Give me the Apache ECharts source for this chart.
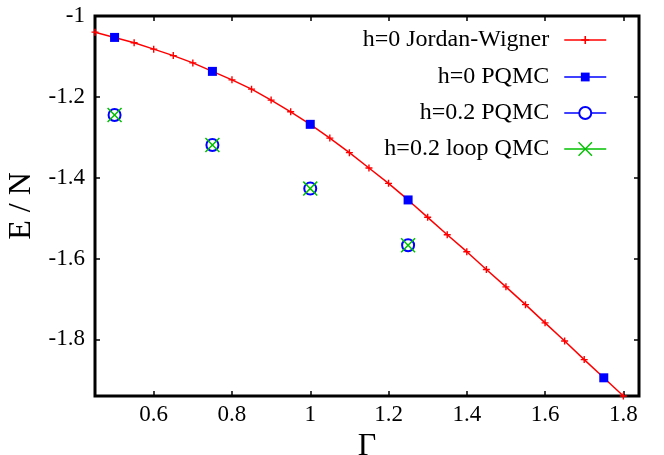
<!DOCTYPE html>
<html><head><meta charset="utf-8">
<script src="https://cdn.jsdelivr.net/npm/echarts@6/dist/echarts.min.js"></script>
<style>html,body{margin:0;padding:0;background:#fff}#c{width:664px;height:455px}</style>
</head><body><div id="c"></div>
<script>
const gammaJW = [0.45,0.5,0.55,0.6,0.65,0.7,0.75,0.8,0.85,0.9,0.95,1.0,1.05,1.1,1.15,1.2,1.25,1.3,1.35,1.4,1.45,1.5,1.55,1.6,1.65,1.7,1.75,1.8];
const energyJW = [-1.040,-1.053,-1.066,-1.082,-1.098,-1.116,-1.137,-1.158,-1.181,-1.208,-1.237,-1.268,-1.302,-1.338,-1.376,-1.414,-1.455,-1.498,-1.541,-1.583,-1.627,-1.670,-1.714,-1.759,-1.804,-1.850,-1.895,-1.940];
const gammaPQMC0 = [0.5,0.75,1.0,1.25,1.75];
const energyPQMC0 = [-1.053,-1.137,-1.268,-1.455,-1.895];
const gammaH02 = [0.5,0.75,1.0,1.25];
const energyPQMC02 = [-1.245,-1.319,-1.427,-1.567];
const energyLoopQMC02 = [-1.245,-1.319,-1.427,-1.567];
const xTicks = [0.6,0.8,1,1.2,1.4,1.6,1.8];
const yTicks = [-1,-1.2,-1.4,-1.6,-1.8];
const names = ['h=0 Jordan-Wigner','h=0 PQMC','h=0.2 PQMC','h=0.2 loop QMC'];

const FONT = '"Liberation Serif", "DejaVu Serif", serif';
const PLUS = 'path://M4,0H6V4H10V6H6V10H4V6H0V4H4Z';
const CROSS = 'path://M0,0.7L0.7,0L5,4.3L9.3,0L10,0.7L5.7,5L10,9.3L9.3,10L5,5.7L0.7,10L0,9.3L4.3,5Z';
const zip = (xs, ys) => xs.map((x, i) => [x, ys[i]]);

const tickStyle = {show:true, inside:true, length:5, lineStyle:{color:'#000', width:1.5}};
function xAxisDef(pos, labels) {
  return {type:'value', position:pos, min:0.45, max:1.84,
    axisLine:{show:false}, splitLine:{show:false},
    axisTick:Object.assign({customValues:xTicks}, tickStyle),
    axisLabel:{show:labels, customValues:xTicks, color:'#000', fontFamily:FONT, fontSize:23, margin:7},
    name: labels ? 'Γ' : '', nameLocation:'middle', nameGap:29,
    nameTextStyle:{color:'#000', fontFamily:FONT, fontSize:32}};
}
function yAxisDef(pos, labels) {
  return {type:'value', position:pos, min:-1.94, max:-1,
    axisLine:{show:false}, splitLine:{show:false},
    axisTick:Object.assign({customValues:yTicks}, tickStyle),
    axisLabel:{show:labels, customValues:yTicks, color:'#000', fontFamily:FONT, fontSize:23, margin:10},
    name: labels ? 'E / N' : '', nameLocation:'middle', nameGap:47, nameRotate:90,
    nameTextStyle:{color:'#000', fontFamily:FONT, fontSize:32}};
}
function legendDef(name, top, itemHeight, color) {
  return {show:true, data:[{name:name, lineStyle:{width:1.5, color:color, opacity:1}, itemStyle:{opacity:1}}],
    right:57, top:top, padding:0, align:'right', itemWidth:42, itemHeight:itemHeight,
    selectedMode:false, textStyle:{color:'#000', fontFamily:FONT, fontSize:24, padding:[0,10,0,0]}};
}

const chart = echarts.init(document.getElementById('c'), null, {renderer:'canvas'});
chart.setOption({
  animation:false,
  backgroundColor:'#fff',
  grid:{left:95, right:25, top:16, bottom:59, outerBoundsMode:'none', containLabel:false,
        show:true, borderColor:'#000', borderWidth:3, backgroundColor:'transparent'},
  xAxis:[xAxisDef('bottom', true), xAxisDef('top', false)],
  yAxis:[yAxisDef('left', true), yAxisDef('right', false)],
  legend:[
    legendDef(names[0], 28, 10, '#ff0000'),
    legendDef(names[1], 65, 11, '#0000ff'),
    legendDef(names[2], 101, 15, '#0000ff'),
    legendDef(names[3], 137, 18, '#00c000')
  ],
  series:[
    {name:names[0], type:'line', data:zip(gammaJW, energyJW), symbol:PLUS, symbolSize:7,
     color:'#ff0000', lineStyle:{color:'#ff0000', width:1.5}, itemStyle:{color:'#ff0000'}, z:2},
    {name:names[1], type:'line', data:zip(gammaPQMC0, energyPQMC0), symbol:'rect', symbolSize:9,
     color:'#0000ff', lineStyle:{width:0}, itemStyle:{color:'#0000ff'}, z:3},
    {name:names[2], type:'line', data:zip(gammaH02, energyPQMC02), symbol:'emptyCircle', symbolSize:12,
     color:'#0000ff', lineStyle:{width:0}, itemStyle:{color:'#0000ff', borderColor:'#0000ff', borderWidth:1.5}, z:4},
    {name:names[3], type:'line', data:zip(gammaH02, energyLoopQMC02), symbol:CROSS, symbolSize:15,
     color:'#00c000', lineStyle:{width:0}, itemStyle:{color:'#00c000'}, z:5}
  ]
});
</script></body></html>
